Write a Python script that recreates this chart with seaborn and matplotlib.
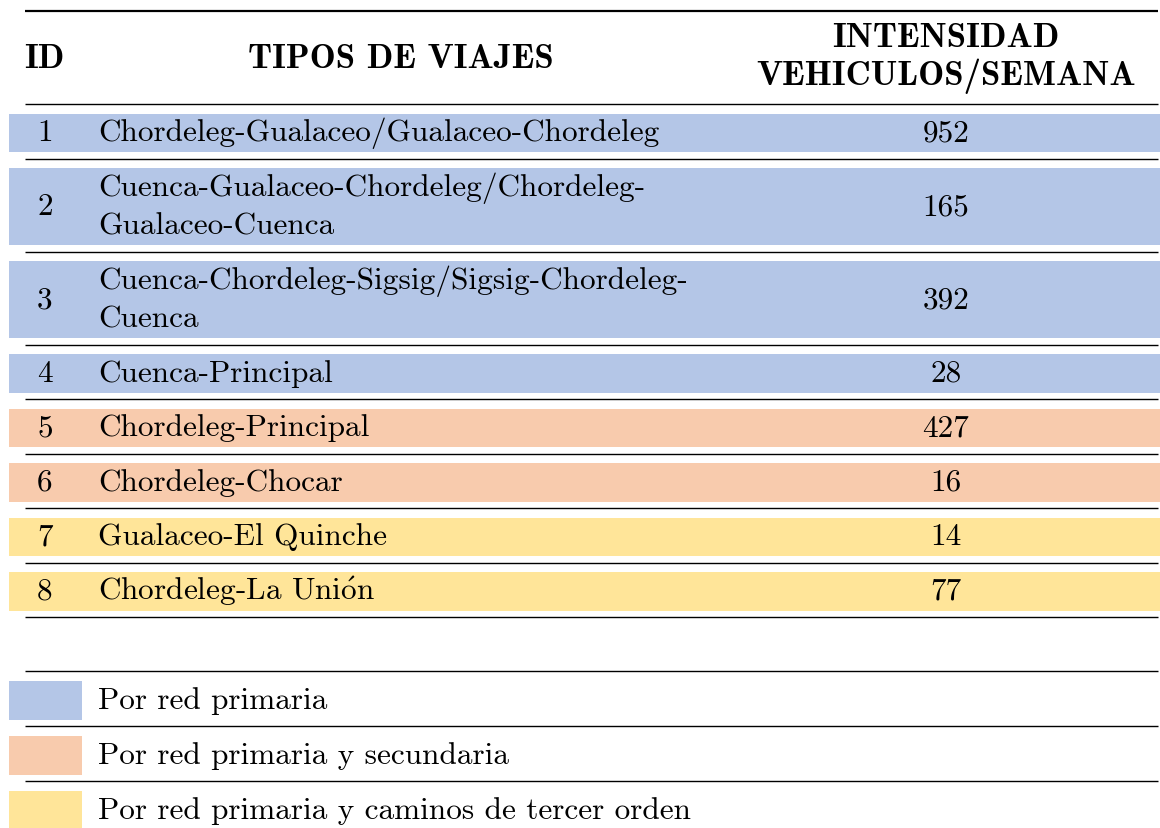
import matplotlib
matplotlib.use("Agg")
import matplotlib.pyplot as plt
import seaborn as sns

# ---------------- data ----------------
ids = ["1", "2", "3", "4", "5", "6", "7", "8"]
trips = [
    "Chordeleg-Gualaceo/Gualaceo-Chordeleg",
    "Cuenca-Gualaceo-Chordeleg/Chordeleg-\nGualaceo-Cuenca",
    "Cuenca-Chordeleg-Sigsig/Sigsig-Chordeleg-\nCuenca",
    "Cuenca-Principal",
    "Chordeleg-Principal",
    "Chordeleg-Chocar",
    "Gualaceo-El Quinche",
    "Chordeleg-La Unión",
]
intensity = [952, 165, 392, 28, 427, 16, 14, 77]
road_type = [0, 0, 0, 0, 1, 1, 2, 2]
headers = ["ID", "TIPOS DE VIAJES", "INTENSIDAD\nVEHICULOS/SEMANA"]
legend_labels = [
    "Por red primaria",
    "Por red primaria y secundaria",
    "Por red primaria y caminos de tercer orden",
]
palette = ["#B4C6E7", "#F8CBAD", "#FFE599"]

# ---------------- style ----------------
sns.set_theme(style="white")
plt.rcParams["font.family"] = ["cmr10", "DejaVu Serif"]
plt.rcParams["mathtext.fontset"] = "cm"
plt.rcParams["axes.formatter.use_mathtext"] = True

W, H = 1160, 829
fig = plt.figure(figsize=(W / 100, H / 100), dpi=100)
ax = fig.add_axes([0, 0, 1, 1])
ax.set_xlim(0, W)
ax.set_ylim(H, 0)
ax.axis("off")

REG = dict(fontsize=22.5, family=["cmr10", "DejaVu Serif"], color="black")
BOLD = dict(fontsize=25, family=["cmb10", "DejaVu Serif"], color="black")


def tex(s):
    return s.replace("ó", r"$\mathrm{\acute{o}}$")


X_RULE0, X_RULE1 = 25, 1158
X_BAND0, X_BAND1 = 9, 1160
X_ID, X_TRIP, X_NUM, X_HEAD2 = 45, 98, 946, 401
LINE = 38

# header
ax.hlines(12, X_RULE0, X_RULE1, color="black", lw=1.6)
ax.text(44, 68, headers[0], ha="center", va="baseline", **BOLD)
ax.text(X_HEAD2, 68, headers[1], ha="center", va="baseline", **BOLD)
for k, line in enumerate(headers[2].split("\n")):
    ax.text(X_NUM, 47 + k * LINE, line, ha="center", va="baseline", **BOLD)

# body rows
y = 105.0
ax.hlines(y, X_RULE0, X_RULE1, color="black", lw=1.0)
for i, (rid, trip, val, rt) in enumerate(zip(ids, trips, intensity, road_type)):
    lines = trip.split("\n")
    h = 54.5 if len(lines) == 1 else 93.0
    top, bot = y + 9.5, y + h - 6.5
    ax.barh((top + bot) / 2, X_BAND1 - X_BAND0, height=bot - top, left=X_BAND0,
            color=palette[rt], edgecolor="none")
    c = (top + bot) / 2
    base = c + 7.5
    ax.text(X_ID, base, rid, ha="center", va="baseline", **REG)
    ax.text(X_NUM, base, str(val), ha="center", va="baseline", **REG)
    for k, line in enumerate(lines):
        yy = base + (k - (len(lines) - 1) / 2) * LINE
        ax.text(X_TRIP, yy, tex(line), ha="left", va="baseline", **REG)
    y += h
    ax.hlines(y, X_RULE0, X_RULE1, color="black", lw=1.0)

# legend
ly = 672.0
for k, (lab, col) in enumerate(zip(legend_labels, palette)):
    r = ly + k * 55
    ax.hlines(r, X_RULE0, X_RULE1, color="black", lw=1.0)
    ax.barh(r + 29.5, 82 - X_BAND0, height=39, left=X_BAND0, color=col, edgecolor="none")
    ax.text(X_TRIP, r + 37, lab, ha="left", va="baseline", **REG)

fig.savefig("out.png", dpi=100)
